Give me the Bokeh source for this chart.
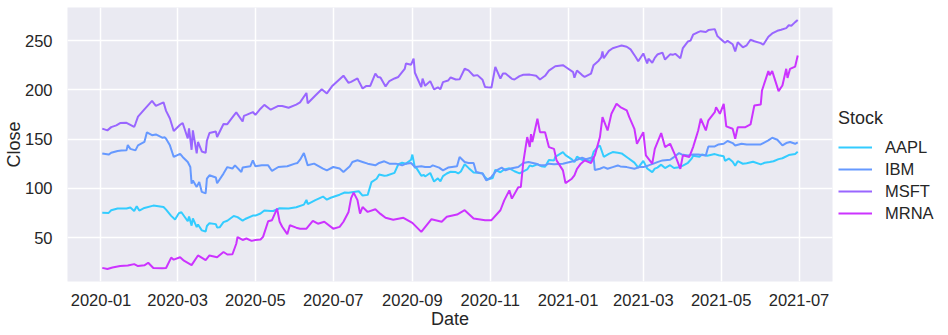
import pandas as pd
from bokeh.plotting import figure
from bokeh.models import FixedTicker, DatetimeTickFormatter, Legend, LegendItem, Range1d
from bokeh.embed import file_html
from bokeh.resources import INLINE

stocks = ["AAPL", "IBM", "MSFT", "MRNA"]
colors = ["#33ccff", "#6699ff", "#9966ff", "#cc33ff"]

aapl_dates = ["2020-01-02","2020-01-07","2020-01-09","2020-01-14","2020-01-21","2020-01-24","2020-01-27","2020-01-29","2020-01-31","2020-02-04","2020-02-11","2020-02-19","2020-02-21","2020-02-25","2020-02-28","2020-03-02","2020-03-04","2020-03-09","2020-03-10","2020-03-12","2020-03-13","2020-03-16","2020-03-17","2020-03-20","2020-03-23","2020-03-24","2020-03-26","2020-03-31","2020-04-01","2020-04-03","2020-04-06","2020-04-09","2020-04-14","2020-04-17","2020-04-21","2020-04-23","2020-04-29","2020-05-01","2020-05-05","2020-05-08","2020-05-13","2020-05-15","2020-05-20","2020-05-27","2020-06-02","2020-06-08","2020-06-10","2020-06-11","2020-06-17","2020-06-23","2020-06-26","2020-06-29","2020-07-06","2020-07-10","2020-07-13","2020-07-17","2020-07-21","2020-07-24","2020-07-28","2020-07-31","2020-08-04","2020-08-06","2020-08-10","2020-08-12","2020-08-18","2020-08-21","2020-08-24","2020-08-27","2020-08-31","2020-09-01","2020-09-03","2020-09-04","2020-09-08","2020-09-10","2020-09-11","2020-09-15","2020-09-18","2020-09-21","2020-09-23","2020-09-25","2020-09-28","2020-10-01","2020-10-05","2020-10-07","2020-10-09","2020-10-12","2020-10-15","2020-10-19","2020-10-22","2020-10-26","2020-10-28","2020-10-30","2020-11-03","2020-11-05","2020-11-09","2020-11-12","2020-11-16","2020-11-20","2020-11-24","2020-11-30","2020-12-02","2020-12-04","2020-12-08","2020-12-11","2020-12-14","2020-12-17","2020-12-21","2020-12-22","2020-12-28","2020-12-30","2021-01-04","2021-01-06","2021-01-08","2021-01-12","2021-01-14","2021-01-19","2021-01-21","2021-01-25","2021-01-26","2021-01-29","2021-02-02","2021-02-05","2021-02-09","2021-02-12","2021-02-17","2021-02-22","2021-02-25","2021-03-01","2021-03-04","2021-03-08","2021-03-10","2021-03-12","2021-03-15","2021-03-18","2021-03-22","2021-03-25","2021-03-29","2021-04-01","2021-04-05","2021-04-08","2021-04-09","2021-04-14","2021-04-16","2021-04-20","2021-04-26","2021-04-29","2021-05-03","2021-05-04","2021-05-07","2021-05-10","2021-05-12","2021-05-14","2021-05-18","2021-05-21","2021-05-26","2021-06-01","2021-06-04","2021-06-08","2021-06-11","2021-06-15","2021-06-18","2021-06-23","2021-06-28","2021-06-30"]
aapl_close = [75.1,75.0,77.7,79.4,79.4,80.4,77.0,81.8,77.4,80.0,82.4,81.0,78.3,72.0,68.3,74.7,75.7,66.5,71.3,62.1,69.5,60.6,63.2,57.3,56.1,61.7,64.6,63.6,60.2,60.4,65.6,67.0,71.8,70.7,67.1,68.8,72.3,72.3,74.4,77.5,76.9,76.9,79.7,79.5,80.8,83.4,88.2,84.0,88.0,91.6,88.4,90.4,93.5,95.7,95.5,96.3,97.0,92.6,93.3,106.3,109.7,113.9,112.7,113.0,115.6,124.4,125.9,125.0,129.0,134.2,120.9,121.0,112.8,113.5,112.0,115.5,106.8,110.1,107.1,112.3,115.0,116.8,116.5,115.1,117.0,124.4,120.7,116.0,115.8,115.1,111.2,108.9,110.4,118.7,116.3,119.2,120.3,117.3,115.2,119.1,123.1,122.3,124.4,122.4,121.8,128.7,128.2,131.9,136.7,133.7,129.4,126.6,132.1,128.8,128.9,127.8,136.9,142.9,143.2,132.0,135.0,136.8,136.0,135.4,130.8,126.0,121.0,127.8,120.1,116.4,120.0,121.0,124.0,120.5,123.4,120.6,121.4,123.0,125.9,130.4,133.0,132.0,134.2,133.1,134.7,133.5,132.5,127.9,130.2,126.9,122.8,127.5,124.9,125.4,126.9,124.3,125.9,126.7,127.4,129.6,130.5,133.7,134.8,137.0]

ibm_dates = ["2020-01-02","2020-01-07","2020-01-09","2020-01-14","2020-01-17","2020-01-21","2020-01-22","2020-01-24","2020-01-28","2020-01-30","2020-02-04","2020-02-06","2020-02-10","2020-02-13","2020-02-18","2020-02-20","2020-02-21","2020-02-24","2020-02-27","2020-03-03","2020-03-05","2020-03-09","2020-03-11","2020-03-12","2020-03-13","2020-03-16","2020-03-18","2020-03-20","2020-03-23","2020-03-24","2020-03-26","2020-03-31","2020-04-01","2020-04-06","2020-04-09","2020-04-13","2020-04-15","2020-04-20","2020-04-21","2020-04-27","2020-04-29","2020-05-01","2020-05-06","2020-05-11","2020-05-14","2020-05-19","2020-05-26","2020-06-01","2020-06-03","2020-06-05","2020-06-08","2020-06-11","2020-06-16","2020-06-23","2020-06-26","2020-07-01","2020-07-06","2020-07-09","2020-07-14","2020-07-16","2020-07-20","2020-07-24","2020-07-28","2020-08-03","2020-08-06","2020-08-10","2020-08-14","2020-08-19","2020-08-24","2020-08-27","2020-08-31","2020-09-03","2020-09-08","2020-09-11","2020-09-15","2020-09-17","2020-09-22","2020-09-25","2020-09-29","2020-10-02","2020-10-06","2020-10-08","2020-10-12","2020-10-15","2020-10-19","2020-10-21","2020-10-26","2020-10-29","2020-11-02","2020-11-04","2020-11-06","2020-11-10","2020-11-13","2020-11-17","2020-11-23","2020-11-27","2020-12-01","2020-12-07","2020-12-10","2020-12-14","2020-12-17","2020-12-21","2020-12-28","2020-12-31","2021-01-05","2021-01-08","2021-01-12","2021-01-15","2021-01-21","2021-01-22","2021-01-26","2021-01-29","2021-02-01","2021-02-05","2021-02-09","2021-02-11","2021-02-16","2021-02-22","2021-02-26","2021-03-01","2021-03-05","2021-03-09","2021-03-12","2021-03-16","2021-03-22","2021-03-25","2021-03-29","2021-03-31","2021-04-05","2021-04-09","2021-04-13","2021-04-19","2021-04-20","2021-04-21","2021-04-26","2021-04-29","2021-05-03","2021-05-06","2021-05-10","2021-05-12","2021-05-17","2021-05-21","2021-05-26","2021-06-01","2021-06-03","2021-06-07","2021-06-10","2021-06-14","2021-06-18","2021-06-21","2021-06-24","2021-06-28","2021-06-30"]
ibm_close = [135.4,134.2,136.1,137.8,138.3,138.5,143.9,140.0,138.5,143.6,147.0,156.8,153.9,154.7,151.4,151.7,150.3,143.6,131.8,135.0,131.8,126.7,121.6,104.7,108.0,101.4,106.4,96.3,94.8,109.8,113.2,110.9,105.1,114.9,121.5,120.0,123.3,116.6,121.0,122.3,128.4,122.3,123.3,123.3,117.6,121.6,122.3,125.0,125.7,129.0,135.8,123.3,125.0,120.0,118.2,121.6,120.0,116.6,122.3,126.7,128.4,126.7,125.0,123.3,125.7,127.4,125.0,125.0,123.3,125.0,125.7,121.6,122.3,121.6,121.6,123.3,121.0,118.2,121.0,121.6,122.3,131.8,126.7,125.7,125.7,116.6,115.0,108.0,111.5,115.0,118.2,121.0,118.2,120.0,121.6,125.7,126.7,125.0,123.3,123.3,125.0,124.3,125.0,125.9,127.4,129.0,131.0,129.5,131.7,118.6,119.8,121.5,119.8,121.5,123.2,122.2,121.5,119.8,121.5,121.5,123.2,125.0,126.6,128.3,129.0,131.7,135.7,134.4,133.4,134.4,134.4,133.4,138.2,142.5,142.5,144.5,145.2,148.0,145.9,143.5,145.2,144.5,144.5,144.5,145.9,148.6,151.3,149.3,143.5,145.9,147.0,145.2,146.6]

msft_dates = ["2020-01-02","2020-01-06","2020-01-09","2020-01-13","2020-01-16","2020-01-21","2020-01-27","2020-01-28","2020-01-30","2020-02-04","2020-02-10","2020-02-13","2020-02-19","2020-02-21","2020-02-24","2020-02-27","2020-03-03","2020-03-05","2020-03-09","2020-03-10","2020-03-12","2020-03-13","2020-03-16","2020-03-17","2020-03-20","2020-03-23","2020-03-24","2020-03-26","2020-03-31","2020-04-01","2020-04-06","2020-04-09","2020-04-14","2020-04-16","2020-04-21","2020-04-22","2020-04-24","2020-04-29","2020-05-01","2020-05-05","2020-05-08","2020-05-13","2020-05-19","2020-05-22","2020-05-27","2020-06-02","2020-06-05","2020-06-10","2020-06-11","2020-06-17","2020-06-22","2020-06-26","2020-06-30","2020-07-06","2020-07-09","2020-07-13","2020-07-15","2020-07-20","2020-07-21","2020-07-24","2020-07-27","2020-07-30","2020-08-03","2020-08-05","2020-08-07","2020-08-11","2020-08-14","2020-08-18","2020-08-21","2020-08-26","2020-08-27","2020-08-31","2020-09-02","2020-09-03","2020-09-08","2020-09-09","2020-09-11","2020-09-15","2020-09-18","2020-09-21","2020-09-23","2020-09-25","2020-09-29","2020-10-01","2020-10-05","2020-10-08","2020-10-12","2020-10-15","2020-10-19","2020-10-22","2020-10-26","2020-10-28","2020-10-30","2020-11-02","2020-11-05","2020-11-09","2020-11-11","2020-11-13","2020-11-18","2020-11-20","2020-11-24","2020-11-27","2020-12-02","2020-12-07","2020-12-10","2020-12-14","2020-12-17","2020-12-22","2020-12-28","2020-12-31","2021-01-05","2021-01-06","2021-01-08","2021-01-12","2021-01-14","2021-01-19","2021-01-21","2021-01-25","2021-01-27","2021-01-28","2021-01-29","2021-02-02","2021-02-05","2021-02-09","2021-02-12","2021-02-16","2021-02-19","2021-02-23","2021-02-25","2021-03-01","2021-03-04","2021-03-05","2021-03-08","2021-03-10","2021-03-12","2021-03-16","2021-03-18","2021-03-22","2021-03-24","2021-03-26","2021-03-30","2021-04-01","2021-04-05","2021-04-07","2021-04-09","2021-04-13","2021-04-15","2021-04-19","2021-04-21","2021-04-26","2021-04-28","2021-04-30","2021-05-04","2021-05-06","2021-05-10","2021-05-12","2021-05-14","2021-05-18","2021-05-21","2021-05-24","2021-05-27","2021-06-01","2021-06-03","2021-06-07","2021-06-10","2021-06-14","2021-06-17","2021-06-21","2021-06-23","2021-06-25","2021-06-28","2021-06-30"]
msft_close = [160.6,158.8,162.1,163.9,166.2,166.5,162.3,165.5,172.8,180.1,188.7,183.7,187.3,178.6,170.9,158.2,164.5,166.3,150.6,160.9,139.1,158.8,135.4,147.0,137.4,136.0,148.3,156.1,157.7,152.1,165.3,165.1,173.7,177.0,167.8,173.5,174.6,177.4,174.6,180.8,184.7,179.8,183.6,183.5,181.8,184.9,187.2,196.8,186.3,194.2,200.6,196.3,203.5,210.7,214.3,207.1,208.0,211.6,208.8,201.3,203.9,203.9,216.5,212.9,212.5,203.4,208.9,211.5,213.0,221.2,226.6,225.5,231.7,217.3,202.7,211.3,204.0,208.8,200.4,202.5,200.6,207.8,209.4,212.5,210.4,210.6,221.4,219.7,214.2,214.9,210.1,202.7,202.5,202.3,223.3,211.4,216.5,216.5,211.1,210.4,213.9,215.2,215.4,214.3,210.5,214.2,219.4,223.9,225.0,222.4,217.9,212.3,219.6,214.9,213.0,216.4,225.0,229.5,232.9,238.9,232.0,239.5,242.2,243.8,245.0,243.7,241.0,233.3,229.0,236.9,226.7,231.6,227.4,232.4,235.8,237.7,230.7,236.0,235.5,236.5,231.9,242.4,249.1,249.9,255.9,258.5,259.5,258.7,260.6,261.6,254.6,252.2,247.8,249.7,246.2,239.0,248.2,243.1,245.2,250.8,249.3,247.4,245.7,253.8,257.2,259.9,260.9,262.6,265.5,265.0,268.7,270.9]

mrna_dates = ["2020-01-02","2020-01-06","2020-01-10","2020-01-16","2020-01-22","2020-01-27","2020-01-30","2020-02-04","2020-02-07","2020-02-11","2020-02-18","2020-02-21","2020-02-25","2020-02-27","2020-03-03","2020-03-06","2020-03-12","2020-03-17","2020-03-23","2020-03-26","2020-04-01","2020-04-06","2020-04-09","2020-04-13","2020-04-16","2020-04-17","2020-04-21","2020-04-24","2020-04-28","2020-05-01","2020-05-05","2020-05-07","2020-05-11","2020-05-14","2020-05-18","2020-05-20","2020-05-22","2020-05-26","2020-05-28","2020-06-02","2020-06-05","2020-06-10","2020-06-15","2020-06-19","2020-06-24","2020-07-01","2020-07-06","2020-07-09","2020-07-13","2020-07-15","2020-07-17","2020-07-20","2020-07-22","2020-07-24","2020-07-28","2020-08-03","2020-08-07","2020-08-11","2020-08-17","2020-08-25","2020-09-01","2020-09-08","2020-09-16","2020-09-24","2020-09-28","2020-10-06","2020-10-12","2020-10-19","2020-10-28","2020-11-02","2020-11-09","2020-11-12","2020-11-16","2020-11-18","2020-11-23","2020-11-25","2020-11-27","2020-11-30","2020-12-02","2020-12-03","2020-12-04","2020-12-08","2020-12-10","2020-12-14","2020-12-17","2020-12-21","2020-12-23","2020-12-28","2020-12-30","2021-01-04","2021-01-06","2021-01-08","2021-01-11","2021-01-14","2021-01-19","2021-01-22","2021-01-26","2021-01-28","2021-02-01","2021-02-04","2021-02-08","2021-02-11","2021-02-16","2021-02-18","2021-02-22","2021-02-24","2021-03-01","2021-03-03","2021-03-08","2021-03-10","2021-03-15","2021-03-18","2021-03-22","2021-03-26","2021-03-30","2021-04-01","2021-04-06","2021-04-09","2021-04-13","2021-04-15","2021-04-19","2021-04-21","2021-04-26","2021-04-27","2021-04-30","2021-05-03","2021-05-05","2021-05-10","2021-05-12","2021-05-14","2021-05-20","2021-05-24","2021-05-27","2021-06-01","2021-06-02","2021-06-07","2021-06-08","2021-06-10","2021-06-15","2021-06-18","2021-06-21","2021-06-22","2021-06-24","2021-06-28","2021-06-30"]
mrna_close = [19.2,18.0,19.5,21.0,21.5,23.0,21.0,21.8,24.4,19.0,18.8,19.0,29.6,27.5,30.0,26.5,22.0,31.8,27.0,31.8,30.0,35.3,32.8,33.0,43.7,50.5,47.5,49.0,46.6,47.5,48.0,50.7,66.5,67.6,79.4,66.0,61.0,53.4,62.5,60.0,59.0,59.0,67.0,64.0,66.0,59.0,60.8,66.0,76.0,90.0,95.6,88.0,74.3,81.0,76.0,78.7,74.0,70.0,68.0,70.0,64.9,55.7,68.6,66.0,71.0,73.3,77.7,69.3,67.6,67.6,77.7,87.7,97.9,89.5,101.0,101.3,127.0,152.0,142.0,155.0,147.0,170.6,157.0,157.0,141.8,140.0,128.3,118.2,105.3,109.7,113.0,119.8,125.0,128.3,125.6,133.4,152.0,172.2,158.7,175.6,185.8,182.4,179.0,172.2,160.4,145.2,157.0,133.4,125.0,140.0,156.0,141.8,145.2,133.4,119.8,133.4,131.7,141.8,158.7,170.6,158.7,169.0,177.3,182.4,175.6,185.8,162.8,160.4,150.3,162.0,162.0,164.8,184.0,185.0,199.3,219.0,214.7,219.0,198.6,204.4,221.3,212.0,221.3,223.6,234.8]

x_tick_labels = ["2020-01", "2020-03", "2020-05", "2020-07", "2020-09", "2020-11",
                 "2021-01", "2021-03", "2021-05", "2021-07"]
y_ticks = [50, 100, 150, 200, 250]

series = {
    "AAPL": (aapl_dates, aapl_close),
    "IBM": (ibm_dates, ibm_close),
    "MSFT": (msft_dates, msft_close),
    "MRNA": (mrna_dates, mrna_close),
}

all_dates = pd.to_datetime(sum([series[s][0] for s in stocks], []))
all_vals = sum([series[s][1] for s in stocks], [])
x0, x1 = all_dates.min(), all_dates.max()
xpad = (x1 - x0) * 0.05
y0, y1 = min(all_vals), max(all_vals)
ypad = (y1 - y0) * 0.05

FONT = "Liberation Sans"
TXT = "#262626"

p = figure(frame_width=765, frame_height=274, output_backend="svg", toolbar_location=None,
           x_axis_type="datetime",
           x_range=Range1d(x0 - xpad, x1 + xpad), y_range=Range1d(y0 - ypad, y1 + ypad),
           min_border_left=67, min_border_right=0, min_border_top=7, min_border_bottom=54,
           background_fill_color="#EAEAF2", border_fill_color="white")
p.outline_line_color = None

renderers = []
for s, c in zip(stocks, colors):
    d, v = series[s]
    r = p.line(pd.to_datetime(d), v, line_color=c, line_width=2)
    renderers.append(r)

tick_ms = [pd.Timestamp(t + "-01").value // 10**6 for t in x_tick_labels]
p.xaxis.ticker = FixedTicker(ticks=tick_ms)
fmt = "%Y-%m"
p.xaxis.formatter = DatetimeTickFormatter(days=fmt, months=fmt, years=fmt, hours=fmt,
                                          minutes=fmt, seconds=fmt, milliseconds=fmt,
                                          microseconds=fmt, hourmin=fmt, minsec=fmt)
p.yaxis.ticker = FixedTicker(ticks=y_ticks)

for ax in (p.xaxis, p.yaxis):
    ax.axis_line_color = None
    ax.major_tick_line_color = None
    ax.minor_tick_line_color = None
    ax.major_label_text_font = FONT
    ax.major_label_text_font_size = "16.5px"
    ax.major_label_text_color = TXT
    ax.axis_label_text_font = FONT
    ax.axis_label_text_font_size = "18px"
    ax.axis_label_text_font_style = "normal"
    ax.axis_label_text_color = TXT

p.xaxis.axis_label = "Date"
p.yaxis.axis_label = "Close"
p.xaxis.major_label_standoff = 6
p.xaxis.axis_label_standoff = 0
p.yaxis.major_label_standoff = 9
p.yaxis.axis_label_standoff = -2

p.grid.grid_line_color = "white"
p.grid.grid_line_width = 1.5

legend = Legend(items=[LegendItem(label=s, renderers=[r]) for s, r in zip(stocks, renderers)],
                location=(6, 58), title="Stock",
                title_text_font=FONT, title_text_font_size="18px", title_text_font_style="normal",
                title_text_color=TXT, title_standoff=8,
                label_text_font=FONT, label_text_font_size="16.5px", label_text_color=TXT,
                glyph_width=34, glyph_height=20, label_height=20, label_standoff=13, spacing=2,
                padding=0, margin=0, border_line_color=None, background_fill_alpha=0)
p.add_layout(legend, "right")

open("out.html", "w").write(file_html(p, INLINE))
